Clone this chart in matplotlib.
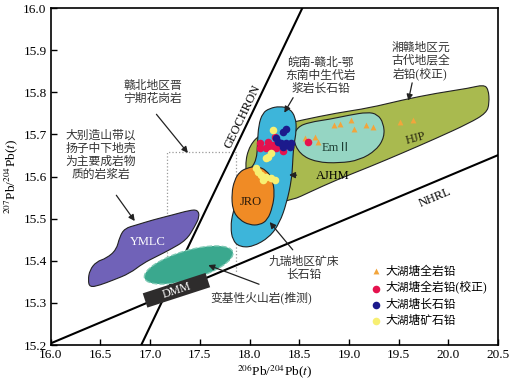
import numpy as np
import matplotlib
matplotlib.use('Agg')
import matplotlib.pyplot as plt
from matplotlib.patches import PathPatch, Ellipse, Rectangle
from matplotlib.path import Path
from matplotlib import transforms

plt.rcParams['font.family'] = ['Liberation Serif', 'Noto Sans CJK SC']
plt.rcParams['mathtext.fontset'] = 'stix'

# --- data ---
# reference lines (two end points each)
geochron_x = [16.91, 18.53]
geochron_y = [15.20, 16.00]
nhrl_x = [16.0, 20.5]
nhrl_y = [15.204, 15.651]

# field outlines
hjp_x = [18.000, 18.121, 18.302, 18.523, 18.874, 19.206, 19.538, 19.879, 20.211, 20.352,
         20.402, 20.412, 20.382, 20.211, 19.879, 19.538, 19.206, 18.874, 18.603, 18.432,
         18.201, 18.000, 17.950]
hjp_y = [15.675, 15.703, 15.722, 15.734, 15.751, 15.763, 15.782, 15.798, 15.810, 15.818,
         15.808, 15.774, 15.751, 15.727, 15.691, 15.656, 15.623, 15.592, 15.563, 15.544,
         15.537, 15.568, 15.627]
em2_x = [18.432, 18.482, 18.603, 18.804, 19.005, 19.186, 19.286, 19.347, 19.357, 19.276,
         19.106, 18.905, 18.673, 18.503]
em2_y = [15.691, 15.718, 15.729, 15.736, 15.746, 15.753, 15.748, 15.727, 15.694, 15.663,
         15.639, 15.632, 15.634, 15.653]
ajhm_x = [18.131, 18.201, 18.302, 18.402, 18.462, 18.472, 18.442, 18.432, 18.422, 18.372,
          18.302, 18.201, 18.030, 17.899, 17.829, 17.809, 17.829, 17.899, 18.000, 18.070,
          18.080, 18.090]
ajhm_y = [15.751, 15.762, 15.767, 15.762, 15.741, 15.710, 15.670, 15.627, 15.592, 15.537,
          15.490, 15.456, 15.433, 15.433, 15.449, 15.480, 15.513, 15.568, 15.615, 15.639,
          15.680, 15.722]
jro_x = [17.970, 18.070, 18.171, 18.231, 18.251, 18.231, 18.181, 18.101, 18.000, 17.899,
         17.829, 17.819, 17.849, 17.899]
jro_y = [15.620, 15.625, 15.615, 15.592, 15.561, 15.528, 15.497, 15.485, 15.485, 15.497,
         15.520, 15.561, 15.592, 15.611]
ymlc_x = [16.375, 16.392, 16.459, 16.560, 16.660, 16.693, 16.744, 16.861, 17.025, 17.226,
          17.397, 17.477, 17.497, 17.447, 17.364, 17.196, 17.062, 16.928, 16.794, 16.626,
          16.492, 16.392]
ymlc_y = [15.354, 15.378, 15.398, 15.406, 15.426, 15.457, 15.477, 15.485, 15.497, 15.509,
          15.520, 15.521, 15.505, 15.481, 15.449, 15.426, 15.410, 15.394, 15.370, 15.354,
          15.342, 15.337]
box_x = [17.17, 17.86]
box_y = [15.37, 15.658]
volc_center = (17.387, 15.390)
dmm_center = (17.264, 15.330)

# samples
whole_x = [18.553, 18.653, 18.686, 18.854, 18.905, 19.022, 19.055, 19.173, 19.239, 19.508, 19.641]
whole_y = [15.691, 15.694, 15.683, 15.722, 15.726, 15.734, 15.714, 15.722, 15.718, 15.730, 15.734]
corr_x = [18.586, 18.100, 18.100, 18.184, 18.218, 18.251, 18.268, 18.335, 18.234, 18.168, 18.284]
corr_y = [15.681, 15.679, 15.667, 15.683, 15.671, 15.694, 15.667, 15.661, 15.675, 15.668, 15.676]
feld_x = [18.369, 18.335, 18.284, 18.319, 18.369, 18.419, 18.402, 18.335, 18.268]
feld_y = [15.714, 15.706, 15.683, 15.679, 15.679, 15.679, 15.671, 15.671, 15.691]
ore_x = [18.234, 18.184, 18.218, 18.168, 18.083, 18.118, 18.168, 18.218, 18.251, 18.134, 18.060]
ore_y = [15.710, 15.647, 15.655, 15.643, 15.611, 15.604, 15.600, 15.596, 15.592, 15.592, 15.620]

fig = plt.figure(figsize=(5.13, 3.87), dpi=100)
ax = fig.add_axes([0.099, 0.1085, 0.872, 0.8705])
ax.set_xlim(16.0, 20.5)
ax.set_ylim(15.2, 16.0)

# dotted box
ax.plot([box_x[0], box_x[0], box_x[1], box_x[1]], [box_y[0], box_y[1], box_y[1], box_y[0]],
        ls=':', color='#999999', lw=0.9, zorder=1)

ax.plot(geochron_x, geochron_y, color='k', lw=1.5, zorder=1.5)
ax.plot(nhrl_x, nhrl_y, color='k', lw=1.5, zorder=1.5)

def field(xs, ys, fc, z):
    # rounded outline: quadratic curves through the midpoints, corners as controls
    pts = np.column_stack([xs, ys])
    n = len(pts)
    mids = (pts + np.roll(pts, -1, axis=0)) / 2
    verts = [mids[-1]]
    codes = [Path.MOVETO]
    for i in range(n):
        verts += [pts[i], mids[i]]
        codes += [Path.CURVE3, Path.CURVE3]
    verts.append(mids[-1])
    codes.append(Path.CLOSEPOLY)
    ax.add_patch(PathPatch(Path(verts, codes), fc=fc, ec='#222222', lw=0.8, zorder=z))

field(hjp_x, hjp_y, '#a9ba4f', 2)
field(em2_x, em2_y, '#95d5c3', 2.1)
field(ajhm_x, ajhm_y, '#3db5da', 2.2)
field(jro_x, jro_y, '#f08b25', 2.3)
field(ymlc_x, ymlc_y, '#7062b8', 2)

trans = fig.dpi_scale_trans + transforms.ScaledTranslation(volc_center[0], volc_center[1], ax.transData)
ax.add_patch(Ellipse((0, 0), 0.92, 0.29, angle=16.5, transform=trans, fc='#3aa88e',
                     ec='#7fcab5', lw=1.0, ls='--', zorder=2.5))
trans2 = fig.dpi_scale_trans + transforms.ScaledTranslation(dmm_center[0], dmm_center[1], ax.transData)
ax.add_patch(Rectangle((-0.33, -0.075), 0.66, 0.15, angle=18, rotation_point='center',
                       transform=trans2, fc='#2e2c2c', ec='none', zorder=2.6))
ax.text(dmm_center[0], dmm_center[1], 'DMM', color='white', fontsize=8.5, rotation=18,
        ha='center', va='center', rotation_mode='anchor', zorder=2.7)

ax.scatter(whole_x, whole_y, marker='^', s=18, c='#f2a53c', lw=0, zorder=3, label='大湖塘全岩铅')
ax.scatter(corr_x, corr_y, marker='o', s=30, c='#e5124e', lw=0, zorder=3.1, label='大湖塘全岩铅(校正)')
ax.scatter(feld_x, feld_y, marker='o', s=30, c='#1c1a8c', lw=0, zorder=3.2, label='大湖塘长石铅')
ax.scatter(ore_x, ore_y, marker='o', s=30, c='#f7ef72', lw=0, zorder=3.3, label='大湖塘矿石铅')

# field labels
ax.text(16.978, 15.445, 'YMLC', color='white', fontsize=9, ha='center', va='center', zorder=4)
ax.text(18.017, 15.540, 'JRO', color='#2a1a0a', fontsize=9, ha='center', va='center', zorder=4)
ax.text(18.871, 15.667, 'EmⅡ', color='#1d3d33', fontsize=9, ha='center', va='center', zorder=4)
ax.text(19.675, 15.691, 'HJP', color='#2a2a10', fontsize=9, ha='center', va='center',
        rotation=15, zorder=4)
ax.text(17.93, 15.743, 'GEOCHRON', fontsize=9, ha='center', va='center', rotation=64.4, zorder=4)
ax.text(19.869, 15.549, 'NHRL', fontsize=9, ha='center', va='center', rotation=22.8, zorder=4)

def note(txt, tx, ty, ax0, ay0, ax1, ay1, size=8.5):
    ax.text(tx, ty, txt, fontsize=size, ha='center', va='center', color='#333333',
            linespacing=1.1, zorder=5)
    ax.annotate('', xy=(ax1, ay1), xytext=(ax0, ay0),
                arrowprops=dict(arrowstyle='-|>', color='#222222', lw=0.9,
                                mutation_scale=9), zorder=5)

ax.annotate('AJHM', xy=(18.369, 15.604), xytext=(18.837, 15.601), fontsize=9,
            ha='center', va='center', zorder=5,
            arrowprops=dict(arrowstyle='-|>', color='#222222', lw=0.9, mutation_scale=9,
                            shrinkA=12))
note('赣北地区晋\n宁期花岗岩', 17.025, 15.800, 17.045, 15.753, 17.397, 15.651)
note('大别造山带以\n扬子中下地壳\n为主要成岩物\n质的岩浆岩', 16.503, 15.651, 16.643, 15.561, 16.861, 15.489)
note('皖南-赣北-鄂\n东南中生代岩\n浆岩长石铅', 18.714, 15.839, 18.452, 15.793, 18.335, 15.746)
note('湘赣地区元\n古代地层全\n岩铅(校正)', 19.719, 15.874, 19.641, 15.829, 19.591, 15.774)
note('九瑞地区矿床\n长石铅', 18.543, 15.383, 18.452, 15.421, 18.184, 15.497)
note('变基性火山岩(推测)', 18.121, 15.312, 18.121, 15.342, 17.558, 15.392)

ax.set_xticks(np.arange(16.0, 20.51, 0.5))
ax.set_yticks(np.arange(15.2, 16.01, 0.1))
ax.xaxis.set_major_formatter(matplotlib.ticker.FormatStrFormatter('%.1f'))
ax.yaxis.set_major_formatter(matplotlib.ticker.FormatStrFormatter('%.1f'))
ax.tick_params(direction='in', length=4, width=1, labelsize=9.5, pad=3)
for s in ax.spines.values():
    s.set_linewidth(1.2)

ax.set_xlabel('$^{206}$Pb/$^{204}$Pb($t$)', fontsize=9.5, labelpad=1)
ax.set_ylabel('$^{207}$Pb/$^{204}$Pb($t$)', fontsize=9.5, labelpad=2)

ax.legend(loc='upper left', bbox_to_anchor=(0.70, 0.25), frameon=False, fontsize=8.5,
          handletextpad=0.2, labelspacing=0.35, borderaxespad=0, handlelength=1.2)

fig.savefig('out.png', dpi=100)
plt.close()
